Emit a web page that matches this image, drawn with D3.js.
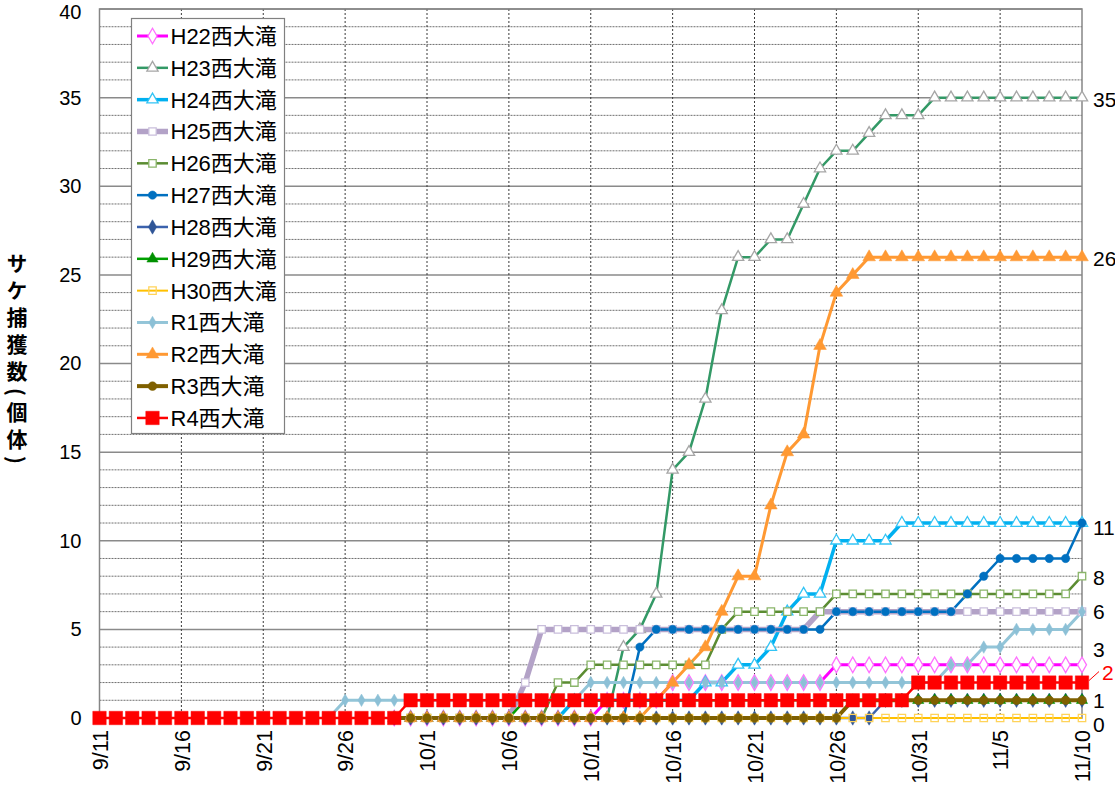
<!DOCTYPE html>
<html>
<head>
<meta charset="utf-8">
<script src="https://cdn.jsdelivr.net/npm/d3@7"></script>
<style>
  body { margin: 0; background: #fff; }
  svg { display: block; }
</style>
</head>
<body>
<svg id="chart" width="1115" height="787"></svg>
<script>
// ---- data -------------------------------------------------------------
// Daily dates from 9/11 to 11/10
const dates = [
  "9/11","9/12","9/13","9/14","9/15","9/16","9/17","9/18","9/19","9/20",
  "9/21","9/22","9/23","9/24","9/25","9/26","9/27","9/28","9/29","9/30",
  "10/1","10/2","10/3","10/4","10/5","10/6","10/7","10/8","10/9","10/10",
  "10/11","10/12","10/13","10/14","10/15","10/16","10/17","10/18","10/19","10/20",
  "10/21","10/22","10/23","10/24","10/25","10/26","10/27","10/28","10/29","10/30",
  "10/31","11/1","11/2","11/3","11/4","11/5","11/6","11/7","11/8","11/9","11/10"
];
const xTickLabels = ["9/11","9/16","9/21","9/26","10/1","10/6","10/11","10/16","10/21","10/26","10/31","11/5","11/10"];
const yTickLabels = [0, 5, 10, 15, 20, 25, 30, 35, 40];
const yTitle = "サケ捕獲数(個体)";

const seriesNames = [
  "H22西大滝","H23西大滝","H24西大滝","H25西大滝","H26西大滝","H27西大滝","H28西大滝",
  "H29西大滝","H30西大滝","R1西大滝","R2西大滝","R3西大滝","R4西大滝"
];

// cumulative catch per day (null = no record that day)
const h22 = [null,null,null,null,null,null,null,null,null,null,null,null,null,null,null,null,null,null,
  0,0,0,0,0,0,0,0,0,0,0,0,0,1,1,1,1,2,2,2,2,2,2,2,2,2,2,3,3,3,3,3,3,3,3,3,3,3,3,3,3,3,3];
const h23 = [null,null,null,null,null,null,null,null,null,null,null,null,null,null,null,null,null,null,
  0,0,0,0,0,0,0,0,0,0,0,0,0,0,4,5,7,14,15,18,23,26,26,27,27,29,31,32,32,33,34,34,34,35,35,35,35,35,35,35,35,35,35];
const h24 = [null,null,null,null,null,null,null,null,null,null,null,null,null,null,null,null,null,null,
  0,0,0,0,0,0,0,0,0,0,0,1,1,1,1,1,1,1,1,2,2,3,3,4,6,7,7,10,10,10,10,11,11,11,11,11,11,11,11,11,11,11,11];
const h25 = [null,null,null,null,null,null,null,null,null,null,null,null,null,null,null,null,null,null,
  null,null,null,null,null,null,null,0,2,5,5,5,5,5,5,5,5,5,5,5,5,5,5,5,5,5,6,6,6,6,6,6,6,6,6,6,6,6,6,6,6,6,6];
const h26 = [null,null,null,null,null,null,null,null,null,null,null,null,null,null,null,null,null,null,
  0,0,0,0,0,0,0,0,0,0,2,2,3,3,3,3,3,3,3,3,5,6,6,6,6,6,6,7,7,7,7,7,7,7,7,7,7,7,7,7,7,7,8];
const h27 = [null,null,null,null,null,null,null,null,null,null,null,null,null,null,null,null,null,null,
  0,0,0,0,0,0,0,0,0,0,0,0,0,0,0,4,5,5,5,5,5,5,5,5,5,5,5,6,6,6,6,6,6,6,6,7,8,9,9,9,9,9,11];
const h28 = [null,null,null,null,null,null,null,null,null,null,null,null,null,null,null,null,null,null,
  0,0,0,0,0,0,0,0,0,0,0,0,0,0,0,0,0,0,0,0,0,0,0,0,0,0,0,0,0,0,1,1,1,1,1,1,1,1,1,1,1,1,1];
const h29 = [null,null,null,null,null,null,null,null,null,null,null,null,null,null,null,null,null,null,
  0,0,0,0,0,0,0,0,1,1,1,1,1,1,1,1,1,1,1,1,1,1,1,1,1,1,1,1,1,1,1,1,1,1,1,1,1,1,1,1,1,1,1];
const h30 = [null,null,null,null,null,null,null,null,null,null,null,null,null,null,null,null,null,null,
  0,0,0,0,0,0,0,0,0,0,0,0,0,0,0,0,0,0,0,0,0,0,0,0,0,0,0,0,0,0,0,0,0,0,0,0,0,0,0,0,0,0,0];
const r1 = [null,null,null,null,null,null,null,null,null,null,null,null,null,null,
  0,1,1,1,1,1,1,1,1,1,1,1,1,1,1,1,2,2,2,2,2,2,2,2,2,2,2,2,2,2,2,2,2,2,2,2,2,2,3,3,4,4,5,5,5,5,6];
const r2 = [null,null,null,null,null,null,null,null,null,null,null,null,null,null,null,null,null,null,
  0,0,0,0,0,0,0,0,0,0,0,0,0,0,0,0,1,2,3,4,6,8,8,12,15,16,21,24,25,26,26,26,26,26,26,26,26,26,26,26,26,26,26];
const r3 = [null,null,null,null,null,null,null,null,null,null,null,null,null,null,null,null,null,null,
  0,0,0,0,0,0,0,0,0,0,0,0,0,0,0,0,0,0,0,0,0,0,0,0,0,0,0,0,1,1,1,1,1,1,1,1,1,1,1,1,1,1,1];
const r4 = [0,0,0,0,0,0,0,0,0,0,0,0,0,0,0,0,0,0,0,
  1,1,1,1,1,1,1,1,1,1,1,1,1,1,1,1,1,1,1,1,1,1,1,1,1,1,1,1,1,1,1,
  2,2,2,2,2,2,2,2,2,2,2];

const seriesValues = [h22, h23, h24, h25, h26, h27, h28, h29, h30, r1, r2, r3, r4];

// ---- styles -----------------------------------------------------------
const lineColors   = ["#ff00ff","#339966","#00b0f0","#b3a2c7","#5b8c32","#0070c0","#3b62ad","#00a000","#ffc000","#93c5d8","#ff9933","#7f6000","#ff0000"];
const lineWidths   = [3, 2.5, 3.5, 5.5, 2.5, 2.5, 2.5, 2.5, 2, 3, 3, 4, 2.5];
const markerShapes = ["diamond","triangle","triangle","square","square","circle","diamond","triangle","square","diamond","triangle","circle","square"];
const markerSizes  = [70, 55, 55, 55, 55, 55, 60, 55, 55, 45, 70, 60, 180];
const markerFills  = ["#ffffff","#ffffff","#ffffff","#ffffff","#ffffff","#0070c0","#2f5597","#009000","none","#8cc0d6","#ff9933","#7f6000","#ff0000"];
const markerStrokes= ["#ff70ff","#a6a6a6","#33c4f5","#c9bedb","#8ab56a","#0070c0","#2f5597","#009000","#ffd35a","#8cc0d6","#ff9933","#7f6000","#ff0000"];

// end-of-series value labels: series index, text colour, vertical nudge
const endLabelSeries = [1, 10, 5, 4, 3, 0, 12, 11, 8];
const endLabelColor  = ["#000","#000","#000","#000","#000","#000","#ff0000","#000","#000"];
const endLabelNudge  = [2, 1, 4, 1, 0, -15, -10, 0, 6];

// ---- layout -----------------------------------------------------------
const svg = d3.select("#chart");
const plotLeft = 99.5, plotRight = 1082, plotTop = 9, plotBottom = 718;
const latin = "'Liberation Sans', Arial, 'Noto Sans CJK JP', sans-serif";

const x = d3.scalePoint().domain(dates).range([plotLeft, plotRight]);
const y = d3.scaleLinear().domain([0, 40]).range([plotBottom, plotTop]);

const symbolType = { diamond: d3.symbolDiamond, triangle: d3.symbolTriangle, square: d3.symbolSquare, circle: d3.symbolCircle };

// ---- grid -------------------------------------------------------------
const grid = svg.append("g");
grid.selectAll("line.minor")
  .data(y.ticks(40).filter(v => v % 5 !== 0))
  .join("line")
  .attr("x1", plotLeft).attr("x2", plotRight)
  .attr("y1", d => y(d)).attr("y2", d => y(d))
  .attr("stroke", "#6f6f6f").attr("stroke-width", 1).attr("stroke-dasharray", "2,1");
grid.selectAll("line.major")
  .data(yTickLabels)
  .join("line")
  .attr("x1", plotLeft).attr("x2", plotRight)
  .attr("y1", d => y(d)).attr("y2", d => y(d))
  .attr("stroke", "#8a8a8a").attr("stroke-width", 1.5);
grid.selectAll("line.vert")
  .data(xTickLabels.slice(1, -1))
  .join("line")
  .attr("x1", d => x(d)).attr("x2", d => x(d))
  .attr("y1", plotTop).attr("y2", plotBottom)
  .attr("stroke", "#3a3a3a").attr("stroke-width", 1).attr("stroke-dasharray", "2,2");

svg.append("rect")
  .attr("x", plotLeft).attr("y", plotTop)
  .attr("width", plotRight - plotLeft).attr("height", plotBottom - plotTop)
  .attr("fill", "none").attr("stroke", "#868686").attr("stroke-width", 1.5);

// ---- axes -------------------------------------------------------------
const yAxis = svg.append("g")
  .attr("transform", `translate(${plotLeft},0)`)
  .call(d3.axisLeft(y).tickValues(yTickLabels).tickSize(0).tickPadding(18));
yAxis.select(".domain").remove();
yAxis.selectAll("text").attr("font-family", latin).attr("font-size", 20).attr("fill", "#000");
// keep the top label inside the page
yAxis.selectAll(".tick").filter(d => d === 40).select("text").attr("dy", "0.45em");

const xAxis = svg.append("g")
  .attr("transform", `translate(0,${plotBottom})`)
  .call(d3.axisBottom(x).tickValues(xTickLabels).tickSize(0));
xAxis.select(".domain").remove();
xAxis.selectAll("text")
  .attr("font-family", latin).attr("font-size", 21.5).attr("fill", "#000")
  .attr("transform", "rotate(-90)")
  .attr("x", -12).attr("y", 0).attr("dy", "0.36em")
  .style("text-anchor", "end");

// ---- y title, written top to bottom ----------------------------------
svg.append("text")
  .attr("x", 17).attr("y", 253)
  .style("writing-mode", "vertical-rl")
  .style("text-orientation", "mixed")
  .style("letter-spacing", "6px")
  .attr("font-family", "'Noto Sans CJK JP', sans-serif")
  .attr("font-size", 21).attr("font-weight", "bold").attr("fill", "#000")
  .text(yTitle);

// ---- series -----------------------------------------------------------
const line = d3.line()
  .defined(d => d.v !== null)
  .x(d => x(d.date)).y(d => y(d.v));

const seriesData = seriesValues.map(vals => vals.map((v, i) => ({ date: dates[i], v })));

const lines = svg.append("g");
seriesData.forEach((pts, s) => {
  lines.append("path")
    .attr("d", line(pts))
    .attr("fill", "none")
    .attr("stroke", lineColors[s])
    .attr("stroke-width", lineWidths[s])
    .attr("stroke-linejoin", "round");
});

const markers = svg.append("g");
seriesData.forEach((pts, s) => {
  const sym = d3.symbol().type(symbolType[markerShapes[s]]).size(markerSizes[s]);
  markers.append("g").selectAll("path")
    .data(pts.filter(d => d.v !== null))
    .join("path")
    .attr("transform", d => `translate(${x(d.date)},${y(d.v)})`)
    .attr("d", sym)
    .attr("fill", markerFills[s])
    .attr("stroke", markerStrokes[s])
    .attr("stroke-width", markerFills[s] === "#ffffff" || markerFills[s] === "none" ? 1.3 : 0.5);
});

// ---- end labels -------------------------------------------------------
const lastDate = dates[dates.length - 1];
const endLabels = svg.append("g").attr("font-family", latin).attr("font-size", 21);
endLabelSeries.forEach((s, k) => {
  const v = seriesValues[s][seriesValues[s].length - 1];
  const isLeader = endLabelColor[k] !== "#000";
  const lx = x(lastDate) + (isLeader ? 20 : 11);
  const ly = y(v) + endLabelNudge[k];
  if (isLeader) {
    endLabels.append("line")
      .attr("x1", x(lastDate) + 7).attr("y1", y(v) - 2)
      .attr("x2", lx - 3).attr("y2", ly - 1)
      .attr("stroke", endLabelColor[k]).attr("stroke-width", 1);
  }
  endLabels.append("text")
    .attr("x", lx).attr("y", ly).attr("dy", "0.36em")
    .attr("fill", endLabelColor[k])
    .text(v);
});

// ---- legend -----------------------------------------------------------
const legend = svg.append("g");
legend.append("rect")
  .attr("x", 131.5).attr("y", 18.5).attr("width", 153).attr("height", 415)
  .attr("fill", "#fff").attr("stroke", "#808080").attr("stroke-width", 1.2);
seriesNames.forEach((name, s) => {
  const cy = 36 + s * 31.83;
  const g = legend.append("g").attr("transform", `translate(0,${cy})`);
  g.append("line").attr("x1", 137).attr("x2", 168).attr("y1", 0).attr("y2", 0)
    .attr("stroke", lineColors[s]).attr("stroke-width", lineWidths[s]);
  g.append("path")
    .attr("transform", "translate(152.5,0)")
    .attr("d", d3.symbol().type(symbolType[markerShapes[s]]).size(markerSizes[s])())
    .attr("fill", markerFills[s]).attr("stroke", markerStrokes[s])
    .attr("stroke-width", markerFills[s] === "#ffffff" || markerFills[s] === "none" ? 1.3 : 0.5);
  g.append("text")
    .attr("x", 170.5).attr("y", 0).attr("dy", "0.36em")
    .attr("font-family", latin).attr("font-size", 22).attr("fill", "#000")
    .text(name);
});
</script>
</body>
</html>
